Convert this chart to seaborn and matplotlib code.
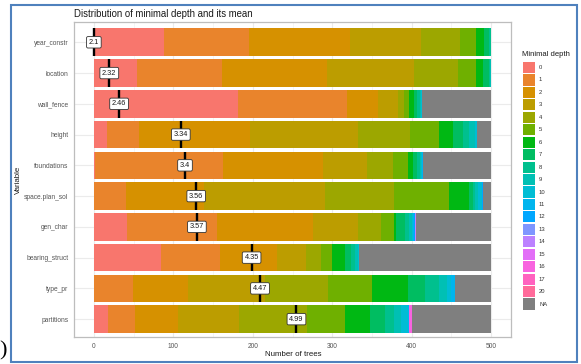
import numpy as np
import pandas as pd
import matplotlib
matplotlib.use("Agg")
import matplotlib.pyplot as plt
from matplotlib.patches import Rectangle
import seaborn as sns

# ---- data -------------------------------------------------------------
variables = ["year_constr", "location", "wall_fence", "height", "foundations",
             "space.plan_sol", "gen_char", "bearing_struct", "type_pr", "partitions"]
depth_levels = [str(d) for d in range(18)] + ["20", "NA"]
mean_depth = [2.1, 2.32, 2.46, 3.34, 3.4, 3.56, 3.57, 4.35, 4.47, 4.99]

# number of trees per minimal depth (0, 1, 2, ...), and trees where the variable is absent (NA)
year_constr = [88, 107, 127, 90, 49, 20, 10, 6, 3]
year_constr_na = 0
location = [54, 107, 133, 109, 55, 23, 9, 7, 2, 1]
location_na = 0
wall_fence = [181, 138, 39, 25, 7, 7, 6, 4, 3, 2, 1]
wall_fence_na = 87
height = [16, 41, 139, 136, 66, 37, 17, 12, 8, 8, 2]
height_na = 18
foundations = [1, 162, 125, 56, 32, 19, 7, 5, 3, 2, 1, 1]
foundations_na = 86
space_plan_sol = [0, 40, 99, 152, 87, 69, 25, 5, 3, 3, 5, 1, 1]
space_plan_sol_na = 10
gen_char = [42, 113, 121, 57, 28, 17, 2, 12, 5, 3, 2, 1, 1, 0, 1]
gen_char_na = 95
bearing_struct = [85, 74, 72, 36, 19, 14, 16, 7, 6, 3, 2]
bearing_struct_na = 166
type_pr = [0, 49, 69, 98, 79, 55, 45, 22, 17, 11, 5, 4]
type_pr_na = 46
partitions = [18, 34, 54, 77, 85, 48, 32, 18, 12, 8, 9, 1, 0, 0, 0, 1, 3, 1]
partitions_na = 99

depth_counts = [
    (year_constr, year_constr_na), (location, location_na),
    (wall_fence, wall_fence_na), (height, height_na),
    (foundations, foundations_na), (space_plan_sol, space_plan_sol_na),
    (gen_char, gen_char_na), (bearing_struct, bearing_struct_na),
    (type_pr, type_pr_na), (partitions, partitions_na),
]

rows = []
for pos, (var, (counts, na)) in enumerate(zip(variables, depth_counts)):
    full = list(counts) + [0] * (19 - len(counts)) + [na]
    for lev, n in zip(depth_levels, full):
        rows.append({"pos": pos, "variable": var, "depth": lev, "count": n})
df = pd.DataFrame(rows)


# ---- ggplot-like hue palette ------------------------------------------
def hcl_hex(h, c=100.0, l=65.0):
    hr = np.deg2rad(h)
    u, v = c * np.cos(hr), c * np.sin(hr)
    Xn, Yn, Zn = 95.047, 100.0, 108.883
    Y = Yn * ((l + 16) / 116) ** 3
    den = Xn + 15 * Yn + 3 * Zn
    un, vn = 4 * Xn / den, 9 * Yn / den
    up, vp = u / (13 * l) + un, v / (13 * l) + vn
    X = Y * 9 * up / (4 * vp)
    Z = Y * (12 - 3 * up - 20 * vp) / (4 * vp)
    M = np.array([[3.240479, -1.537150, -0.498535],
                  [-0.969256, 1.875992, 0.041556],
                  [0.055648, -0.204043, 1.057311]])
    rgb = M @ np.array([X, Y, Z]) / 100
    rgb = np.where(rgb <= 0.0031308, 12.92 * rgb, 1.055 * np.abs(rgb) ** (1 / 2.4) - 0.055)
    rgb = np.clip(rgb, 0, 1)
    return "#" + "".join(f"{int(round(x * 255)):02X}" for x in rgb)


n_lev = len(depth_levels) - 1
hues = np.linspace(15, 375, n_lev + 1)[:-1]
palette = {lev: hcl_hex(h) for lev, h in zip(depth_levels[:-1], hues)}
palette["NA"] = "#7F7F7F"

# ---- figure -------------------------------------------------------------
W, H = 581, 364
sns.set_theme(style="white")
plt.rcParams["font.family"] = ["Liberation Sans", "DejaVu Sans"]
fig = plt.figure(figsize=(W / 100, H / 100), dpi=100)
fig.patch.set_facecolor("white")


def fx(px):
    return px / W


def fy(py):
    return 1 - py / H


ax = fig.add_axes([fx(74), fy(337), fx(511) - fx(74), (337 - 22) / H])

sns.histplot(data=df, y="pos", hue="depth", weights="count",
             hue_order=depth_levels[::-1], palette=palette,
             multiple="stack", discrete=True, shrink=0.9,
             element="bars", linewidth=0, alpha=1, legend=False, ax=ax)

# mean minimal depth markers
label_scale = 255
mmin, mmax = min(mean_depth), max(mean_depth)
for pos, m in enumerate(mean_depth):
    xm = (m - mmin) / (mmax - mmin) * label_scale
    ax.vlines(xm, pos - 0.45, pos + 0.45, color="black", linewidth=1.7, zorder=5)
    ax.text(xm, pos, f"{m:g}", ha="center", va="center", fontsize=5.3, color="#1A1A1A",
            zorder=6,
            bbox=dict(boxstyle="round,pad=0.3,rounding_size=0.2", fc="white",
                      ec="#333333", lw=0.6))

ax.set_xlim(-25, 525)
ax.set_ylim(9.58, -0.66)
ax.set_xticks([0, 100, 200, 300, 400, 500])
ax.set_xticks([50, 150, 250, 350, 450], minor=True)
ax.set_yticks(range(len(variables)))
ax.set_yticklabels(variables)
ax.set_axisbelow(True)
ax.grid(True, which="major", color="#EBEBEB", linewidth=0.8)
ax.grid(True, which="minor", axis="x", color="#F2F2F2", linewidth=0.5)
for s in ax.spines.values():
    s.set_color("#BDBDBD")
    s.set_linewidth(0.9)
ax.tick_params(axis="both", which="major", length=2.5, width=0.5, color="#555555",
               labelsize=4.8, labelcolor="#555555", pad=1.5)
ax.tick_params(which="minor", length=0)
ax.set_xlabel("")
ax.set_ylabel("")

fig.text(fx(74), fy(14), "Distribution of minimal depth and its mean",
         ha="left", va="center", fontsize=6.9, color="#1A1A1A")
fig.text(fx(293), fy(354), "Number of trees", ha="center", va="center",
         fontsize=5.7, color="#1A1A1A")
fig.text(fx(18), fy(180), "Variable", ha="center", va="center", rotation=90,
         fontsize=5.7, color="#1A1A1A")

# legend
fig.text(fx(522.5), fy(55), "Minimal depth", ha="left", va="center",
         fontsize=5.5, color="#1A1A1A")
key_y0, key_step, key_h, key_w = 67.5, 12.45, 11.2, 11.4
for i, lev in enumerate(depth_levels):
    cy = key_y0 + i * key_step
    fig.patches.append(Rectangle((fx(523.3), fy(cy + key_h / 2)), key_w / W, key_h / H,
                                 transform=fig.transFigure, facecolor=palette[lev],
                                 edgecolor="none"))
    fig.text(fx(539), fy(cy), lev, ha="left", va="center", fontsize=4.2, color="#333333")

# picture frame and caption fragment
fig.patches.append(Rectangle((fx(10.5), fy(361.5)), (577 - 10.5) / W, (361.5 - 5) / H,
                             transform=fig.transFigure, fill=False,
                             edgecolor="#4F81BD", linewidth=1.5))
fig.text(fx(3), fy(351), ")", ha="center", va="center", fontsize=16,
         family=["Liberation Serif", "DejaVu Serif"], color="black")

fig.savefig("out.png", dpi=100, facecolor="white")
